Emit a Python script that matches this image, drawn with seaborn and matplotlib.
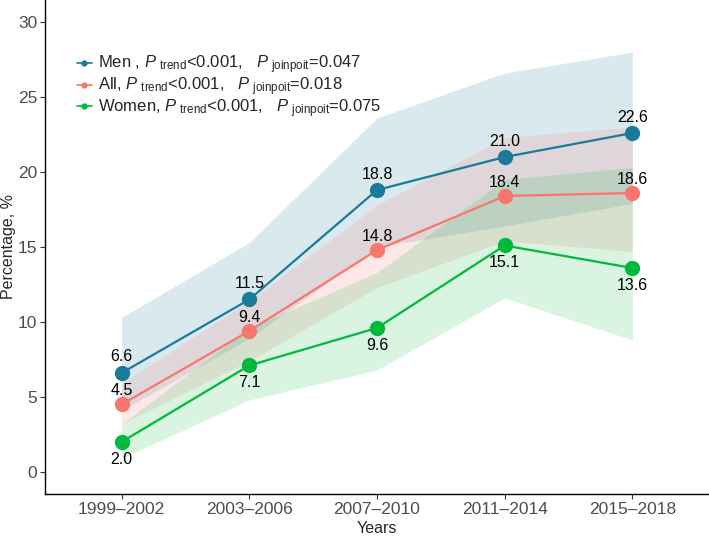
import numpy as np
import pandas as pd
import matplotlib
matplotlib.use("Agg")
import matplotlib.pyplot as plt
from matplotlib.lines import Line2D
import seaborn as sns

# periods on x axis
periods = ["1999–2002", "2003–2006", "2007–2010", "2011–2014", "2015–2018"]

# point estimates (%)
men = [6.6, 11.5, 18.8, 21.0, 22.6]
all_ = [4.5, 9.4, 14.8, 18.4, 18.6]
women = [2.0, 7.1, 9.6, 15.1, 13.6]

# confidence bands
men_lo = [4.1, 8.9, 15.0, 16.4, 17.9]
men_hi = [10.3, 15.3, 23.6, 26.6, 28.0]
all_lo = [3.2, 7.4, 12.3, 15.4, 14.7]
all_hi = [5.9, 11.4, 17.8, 22.3, 23.0]
women_lo = [0.9, 4.8, 6.8, 11.6, 8.8]
women_hi = [3.2, 9.6, 13.3, 19.5, 20.3]

legend_labels = [
    r"Men , $P\;{}_{\mathrm{trend}}$<0.001,   $P\;{}_{\mathrm{joinpoit}}$=0.047",
    r"All, $P\;{}_{\mathrm{trend}}$<0.001,   $P\;{}_{\mathrm{joinpoit}}$=0.018",
    r"Women, $P\;{}_{\mathrm{trend}}$<0.001,   $P\;{}_{\mathrm{joinpoit}}$=0.075",
]

colors = {"Men": "#1A7A9A", "All": "#F8766D", "Women": "#00B83A"}

sns.set_style("white")
plt.rcParams["font.family"] = ["Liberation Sans", "DejaVu Sans"]
plt.rcParams["mathtext.fontset"] = "custom"
plt.rcParams["mathtext.rm"] = "Liberation Sans"
plt.rcParams["mathtext.it"] = "Liberation Sans:italic"

x = np.arange(len(periods))
df = pd.DataFrame({
    "x": np.tile(x, 3),
    "value": men + all_ + women,
    "group": ["Men"] * 5 + ["All"] * 5 + ["Women"] * 5,
})

fig = plt.figure(figsize=(7.09, 5.42), dpi=100)
ax = fig.add_axes([0.0635, 0.0886, 0.9365, 0.9114])

# ribbons
ax.fill_between(x, men_lo, men_hi, color=colors["Men"], alpha=0.16, lw=0)
ax.fill_between(x, all_lo, all_hi, color=colors["All"], alpha=0.16, lw=0)
ax.fill_between(x, women_lo, women_hi, color=colors["Women"], alpha=0.15, lw=0)

sns.lineplot(data=df, x="x", y="value", hue="group", palette=colors,
             marker="o", markersize=11, markeredgewidth=0, linewidth=1.6,
             legend=False, ax=ax)

# value labels
for vals, off in [(men, 11.5), (all_, 10), (women, -12.5)]:
    for xi, v in zip(x, vals):
        ax.annotate(f"{v:.1f}", (xi, v), xytext=(0, off), textcoords="offset points",
                    ha="center", va="center", fontsize=11.5, color="black")

ax.set_xlim(-0.6, 4.6)
ax.set_ylim(-1.47, 31.47)
ax.set_xticks(x)
ax.set_xticklabels(periods)
ax.set_yticks([0, 5, 10, 15, 20, 25, 30])
ax.tick_params(axis="both", bottom=True, left=True, labelsize=12.5, labelcolor="#4D4D4D",
               color="#333333", length=3.5, width=0.8, direction="out", pad=2)
ax.set_xlabel("Years", fontsize=11.5, labelpad=3)
ax.set_ylabel("Percentage, %", fontsize=11.5, labelpad=1)

sns.despine(ax=ax)
for s in ["left", "bottom"]:
    ax.spines[s].set_color("black")
    ax.spines[s].set_linewidth(1.0)

handles = [Line2D([0], [0], color=colors[g], marker="o", markersize=3.5, lw=1.2)
           for g in ["Men", "All", "Women"]]
ax.legend(handles, legend_labels, loc="upper left", bbox_to_anchor=(0.035, 0.908),
          frameon=False, fontsize=12, handlelength=0.9, handletextpad=0.4,
          labelspacing=-0.05, borderpad=0)

fig.savefig("out.png", dpi=100)
